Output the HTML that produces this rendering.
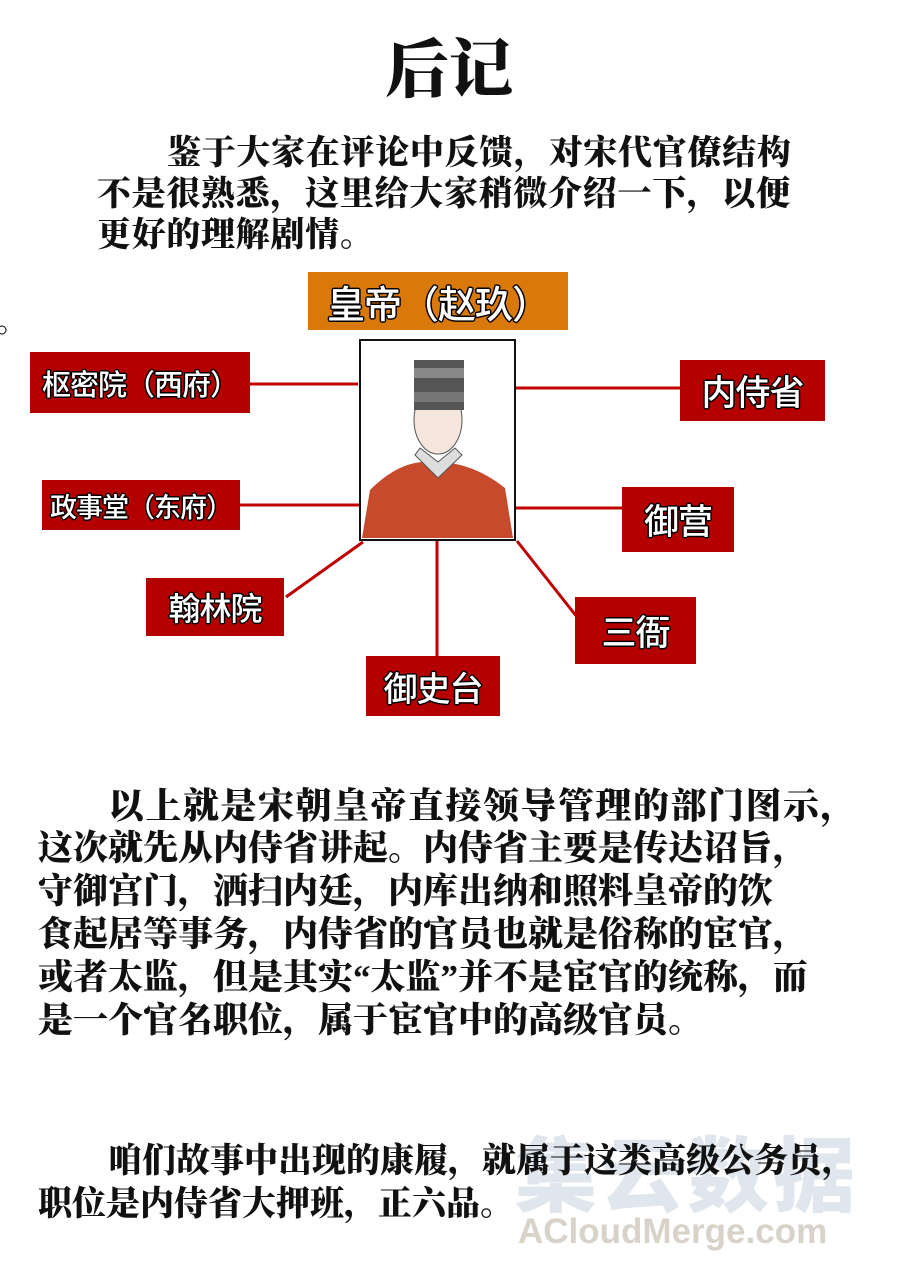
<!DOCTYPE html>
<html><head><meta charset="utf-8"><style>
body{margin:0;width:900px;height:1264px;background:#fff;position:relative;overflow:hidden;font-family:"Liberation Serif","Noto Serif CJK SC",serif;}
.t{position:absolute;white-space:nowrap;font-weight:900;color:#111;font-size:34px;line-height:40px;}
.b{position:absolute;background:#b50000;color:#fff;font-family:"Noto Sans CJK SC",sans-serif;font-weight:500;display:flex;align-items:center;justify-content:center;white-space:nowrap;letter-spacing:-1px;
text-shadow:-1.5px 0 #000,1.5px 0 #000,0 -1.5px #000,0 1.5px #000,1px 1px #000,-1px -1px #000,1px -1px #000,-1px 1px #000;}
</style></head><body>
<div class="t" style="left:385px;top:36px;font-size:64px;line-height:70px;">后记</div>
<div class="t" style="left:167px;top:134px;letter-spacing:0.7px;">鉴于大家在评论中反馈，对宋代官僚结构</div>
<div class="t" style="left:97px;top:175px;letter-spacing:0.7px;">不是很熟悉，这里给大家稍微介绍一下，以便</div>
<div class="t" style="left:97px;top:216px;letter-spacing:0.7px;">更好的理解剧情。</div>

<svg style="position:absolute;left:0;top:0" width="900" height="760">
<g stroke="#c00000" stroke-width="3" fill="none">
<line x1="250" y1="384" x2="358" y2="384"/>
<line x1="240" y1="505" x2="360" y2="505"/>
<line x1="515" y1="388" x2="680" y2="388"/>
<line x1="515" y1="508" x2="622" y2="508"/>
<line x1="363" y1="542" x2="286" y2="597"/>
<line x1="437" y1="540" x2="437" y2="656"/>
<line x1="517" y1="541" x2="577" y2="617"/>
</g>
<rect x="360" y="340" width="155" height="200" fill="#fff" stroke="#111" stroke-width="2"/>
<path d="M362 538 L370 490 Q400 460 430 462 Q470 460 505 488 L513 538 Z" fill="#c84a2c"/>
<path d="M415 455 L438 478 L462 455 L455 448 L438 462 L420 448 Z" fill="#ddd" stroke="#555"/>
<ellipse cx="438" cy="420" rx="24" ry="34" fill="#f4e6dc" stroke="#555"/>
<rect x="414" y="360" width="50" height="50" fill="#555"/>
<rect x="414" y="368" width="50" height="10" fill="#888"/>
<rect x="414" y="392" width="50" height="10" fill="#777"/>
<circle cx="2" cy="330" r="4" fill="none" stroke="#000"/>
</svg>

<div class="b" style="left:308px;top:272px;width:260px;height:58px;background:#d9790c;font-size:38px;">皇帝（赵玖）</div>
<div class="b" style="left:30px;top:352px;width:220px;height:61px;font-size:29px;">枢密院（西府）</div>
<div class="b" style="left:42px;top:480px;width:198px;height:50px;font-size:27px;">政事堂（东府）</div>
<div class="b" style="left:146px;top:578px;width:138px;height:58px;font-size:32px;">翰林院</div>
<div class="b" style="left:366px;top:656px;width:134px;height:60px;font-size:34px;">御史台</div>
<div class="b" style="left:575px;top:597px;width:121px;height:67px;font-size:35px;">三衙</div>
<div class="b" style="left:622px;top:487px;width:112px;height:65px;font-size:35px;">御营</div>
<div class="b" style="left:680px;top:360px;width:145px;height:61px;font-size:35px;">内侍省</div>

<div class="t" style="left:108px;top:786px;font-size:36px;letter-spacing:1.5px;">以上就是宋朝皇帝直接领导管理的部门图示，</div>
<div class="t" style="left:38px;top:829px;font-size:35px;">这次就先从内侍省讲起。内侍省主要是传达诏旨，</div>
<div class="t" style="left:38px;top:872px;font-size:35px;">守御宫门，洒扫内廷，内库出纳和照料皇帝的饮</div>
<div class="t" style="left:38px;top:915px;font-size:35px;">食起居等事务，内侍省的官员也就是俗称的宦官，</div>
<div class="t" style="left:38px;top:958px;font-size:35px;">或者太监，但是其实“太监”并不是宦官的统称，而</div>
<div class="t" style="left:38px;top:1001px;font-size:35px;">是一个官名职位，属于宦官中的高级官员。</div>

<div class="t" style="left:515px;top:1125px;font-size:82px;line-height:90px;color:#dfe6ee;letter-spacing:4px;font-family:'Noto Sans CJK SC',sans-serif;">集云数据</div>
<div class="t" style="left:518px;top:1212px;font-size:35px;line-height:40px;color:#d8d2c8;font-family:'Liberation Sans',sans-serif;">ACloudMerge.com</div>

<div class="t" style="left:108px;top:1142px;font-size:34px;">咱们故事中出现的康履，就属于这类高级公务员，</div>
<div class="t" style="left:38px;top:1185px;font-size:34px;">职位是内侍省大押班，正六品。</div>
</body></html>
